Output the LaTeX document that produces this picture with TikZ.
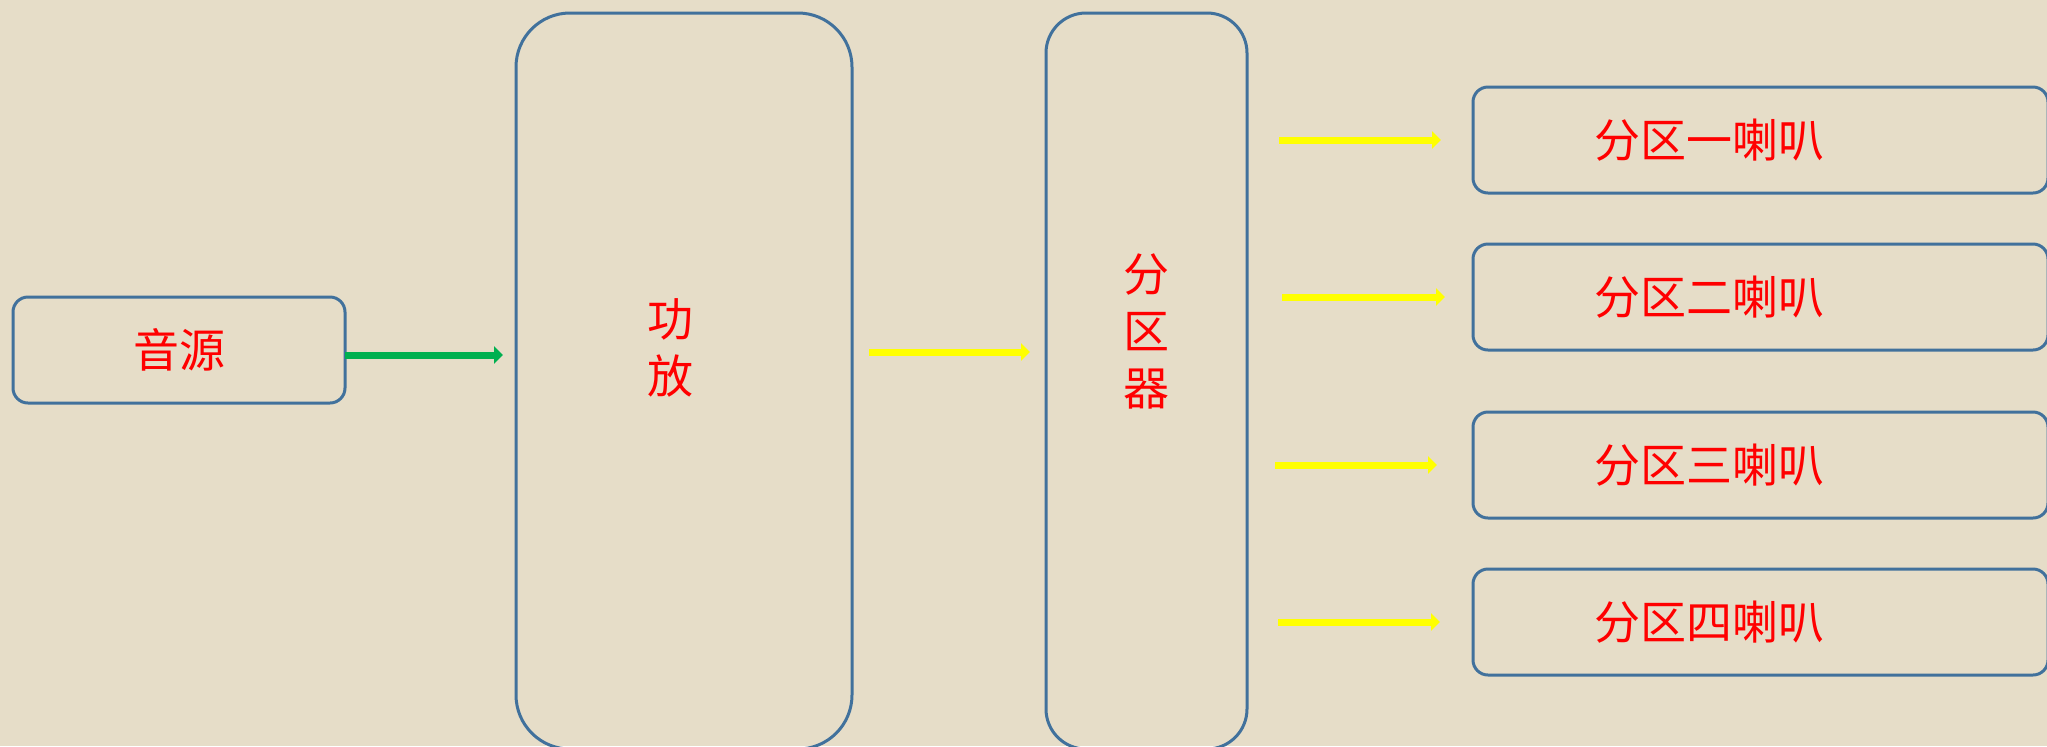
\documentclass[tikz,border=0pt]{standalone}
\usepackage{fontspec}
\setmainfont{Noto Sans CJK SC}
\usetikzlibrary{arrows.meta}
\definecolor{bgc}{HTML}{E6DDC8}
\definecolor{bord}{HTML}{41719C}
\definecolor{grn}{HTML}{00B050}
\definecolor{ylw}{HTML}{FFFF00}
\tikzset{
  box/.style={draw=bord, line width=1.5pt, inner sep=0pt, outer sep=0pt},
  txt/.style={text=red, font=\fontsize{23}{28.5}\selectfont, align=center},
  garrow/.style={draw=grn, line width=3.5pt, -{Triangle[length=4.5pt,width=8.5pt]}},
  yarrow/.style={draw=ylw, line width=3.5pt, -{Triangle[length=4.5pt,width=8.5pt]}}
}
\begin{document}
\begin{tikzpicture}
\fill[bgc] (0,0) rectangle (1023.5pt,-373pt);
\useasboundingbox (0,0) rectangle (1023.5pt,-373pt);
\begin{scope}
\clip (0,0) rectangle (1023.5pt,-373pt);
% source
\node[box, rounded corners=7.5pt, minimum width=166pt, minimum height=53pt, txt] (src) at (89.5pt,-175pt) {音源};
% amplifier
\node[box, rounded corners=27pt, minimum width=168pt, minimum height=368pt,
  label={[txt, xshift=-7pt, yshift=16.5pt]center:功\\放}] (amp) at (342pt,-190.5pt) {};
% splitter
\node[box, rounded corners=20pt, minimum width=100.5pt, minimum height=368pt,
  label={[txt, yshift=25pt]center:分\\区\\器}] (spl) at (573.25pt,-190.5pt) {};
% speakers
\node[box, rounded corners=7.5pt, minimum width=287.5pt, minimum height=53pt,
  label={[txt, xshift=-25.5pt]center:分区一喇叭}] (s1) at (880.25pt,-70pt) {};
\node[box, rounded corners=7.5pt, minimum width=287.5pt, minimum height=53pt,
  label={[txt, xshift=-25.5pt]center:分区二喇叭}] (s2) at (880.25pt,-148.5pt) {};
\node[box, rounded corners=7.5pt, minimum width=287.5pt, minimum height=53pt,
  label={[txt, xshift=-25.5pt]center:分区三喇叭}] (s3) at (880.25pt,-232.5pt) {};
\node[box, rounded corners=7.5pt, minimum width=287.5pt, minimum height=53pt,
  label={[txt, xshift=-25.5pt]center:分区四喇叭}] (s4) at (880.25pt,-311pt) {};
\end{scope}
% connectors
\draw[garrow, shorten >=6.5pt] ([yshift=-2.5pt]src.east) -- ([yshift=-2.5pt]src.east -| amp.west);
\draw[yarrow, shorten <=8.5pt, shorten >=8pt] (amp.east |- 0,-176pt) -- (spl.west |- 0,-176pt);
\draw[yarrow, shorten <=16pt, shorten >=16pt] (spl.east |- s1.west) -- (s1.west);
\draw[yarrow, shorten <=17.5pt, shorten >=14pt] (spl.east |- s2.west) -- (s2.west);
\draw[yarrow, shorten <=14pt, shorten >=18pt] (spl.east |- s3.west) -- (s3.west);
\draw[yarrow, shorten <=15.5pt, shorten >=16.5pt] (spl.east |- s4.west) -- (s4.west);
\end{tikzpicture}
\end{document}
